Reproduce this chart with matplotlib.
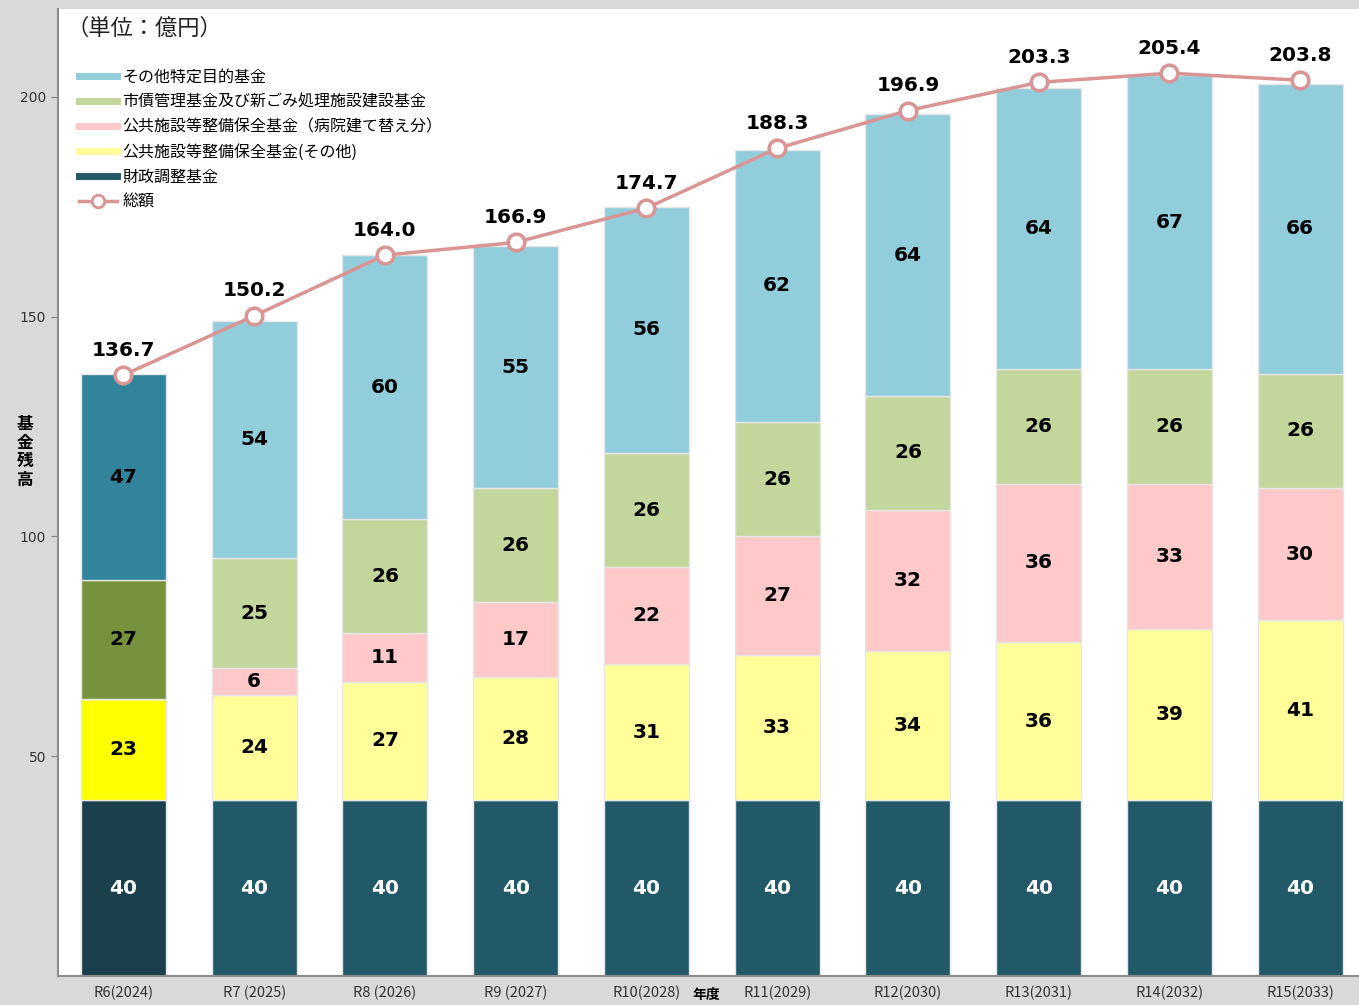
import matplotlib
matplotlib.use("Agg")
import matplotlib.pyplot as plt
import numpy as np
from matplotlib.lines import Line2D

plt.rcParams['font.family'] = ['Noto Sans CJK JP', 'DejaVu Sans']

years = ["R6(2024)", "R7 (2025)", "R8 (2026)", "R9 (2027)", "R10(2028)",
         "R11(2029)", "R12(2030)", "R13(2031)", "R14(2032)", "R15(2033)"]
zaisei = [40, 40, 40, 40, 40, 40, 40, 40, 40, 40]
kokyo_other = [23, 24, 27, 28, 31, 33, 34, 36, 39, 41]
kokyo_hosp = [0, 6, 11, 17, 22, 27, 32, 36, 33, 30]
shisai = [27, 25, 26, 26, 26, 26, 26, 26, 26, 26]
other = [47, 54, 60, 55, 56, 62, 64, 64, 67, 66]
total = [136.7, 150.2, 164.0, 166.9, 174.7, 188.3, 196.9, 203.3, 205.4, 203.8]

series_names = ["財政調整基金", "公共施設等整備保全基金(その他)", "公共施設等整備保全基金（病院建て替え分）",
                "市債管理基金及び新ごみ処理施設建設基金", "その他特定目的基金"]
colors = ["#215968", "#FFFF99", "#FFC9C9", "#C3D69B", "#92CDDC"]
first_colors = ["#1B3F4B", "#FFFF00", "#FFC9C9", "#76923C", "#31849B"]
line_color = "#D99594"

fig = plt.figure(figsize=(13.59, 10.05), dpi=100, facecolor="#D9D9D9")
ax = fig.add_axes([58/1359, 29/1005, 1 - 58/1359, (976-9)/1005])
ax.set_facecolor("white")

x = np.arange(len(years))
width = 0.65
data = [zaisei, kokyo_other, kokyo_hosp, shisai, other]
bottom = np.zeros(len(years))
for si, (vals, name) in enumerate(zip(data, series_names)):
    vals = np.array(vals, dtype=float)
    cols = [first_colors[si] if i == 0 else colors[si] for i in range(len(years))]
    ax.bar(x, vals, width, bottom=bottom, color=cols, edgecolor="#E6E6E6", linewidth=1)
    for i, v in enumerate(vals):
        if v > 0:
            ax.text(x[i], bottom[i] + v / 2, f"{int(v)}", ha="center", va="center",
                    fontsize=14.5, fontweight="bold", family="DejaVu Sans",
                    color="white" if si == 0 else "black")
    bottom += vals

ax.plot(x, total, color=line_color, lw=2.5, marker="o", markersize=12,
        markerfacecolor="white", markeredgecolor=line_color, markeredgewidth=2.5, zorder=5)
for i, t in enumerate(total):
    ax.text(x[i], t + 3.5, f"{t:.1f}", ha="center", va="bottom", fontsize=14.5,
            fontweight="bold", family="DejaVu Sans", color="black")

ax.set_xlim(-0.5, 9.45)
ax.set_ylim(0, 220)
ax.set_yticks([50, 100, 150, 200])
ax.set_xticks(x)
ax.set_xticklabels(years, fontsize=10.5, color="#333333")
ax.tick_params(axis="y", labelsize=10, colors="#808080", labelcolor="#333333", length=5, direction="out")
ax.tick_params(axis="x", length=0, pad=7)
for lab in ax.get_yticklabels():
    lab.set_family("DejaVu Sans")
for s in ["top", "right"]:
    ax.spines[s].set_visible(False)
ax.spines["left"].set_color("#8C8C8C")
ax.spines["left"].set_linewidth(1.5)
ax.spines["bottom"].set_color("#8C8C8C")
ax.spines["bottom"].set_linewidth(1.5)

leg_handles = [Line2D([0], [0], color=colors[4], lw=5),
               Line2D([0], [0], color=colors[3], lw=5),
               Line2D([0], [0], color=colors[2], lw=5),
               Line2D([0], [0], color=colors[1], lw=5),
               Line2D([0], [0], color=colors[0], lw=5),
               Line2D([0], [0], color=line_color, lw=2.5, marker="o", markersize=9,
                      markerfacecolor="white", markeredgecolor=line_color, markeredgewidth=2)]
leg_labels = [series_names[4], series_names[3], series_names[2], series_names[1], series_names[0], "総額"]
ax.legend(leg_handles, leg_labels, loc="upper left", bbox_to_anchor=(0.011, 0.945), frameon=False,
          fontsize=11.5, handlelength=2.4, labelspacing=0.5, handletextpad=0.35, borderaxespad=0)

fig.text(66/1359, 1 - 28/1005, "（単位：億円）", fontsize=16, va="center", ha="left", color="#222222")
fig.text(25/1359, 1 - 452/1005, "基\n金\n残\n高", fontsize=12, fontweight="bold", va="center",
         ha="center", linespacing=1.05)
fig.text(706/1359, 1 - 995/1005, "年度", fontsize=10, fontweight="bold", va="center", ha="center")

fig.savefig("out.png", dpi=100, facecolor=fig.get_facecolor())
